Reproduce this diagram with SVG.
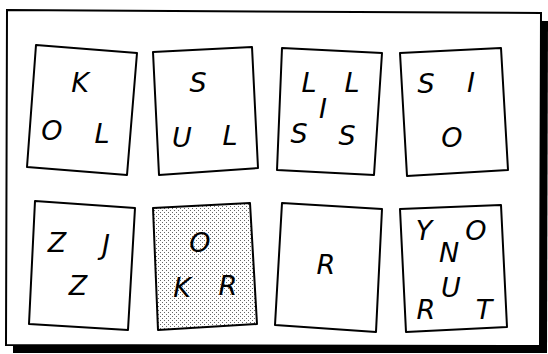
<svg xmlns="http://www.w3.org/2000/svg" width="548" height="354" viewBox="0 0 548 354">
<style>
.card{fill:#fff;stroke:#000;stroke-width:2;stroke-linejoin:round}
.dotted{fill:url(#dots);stroke:#000;stroke-width:2;stroke-linejoin:round}
.lt{font-family:"DejaVu Sans","Liberation Sans",sans-serif;font-style:italic;font-size:27px;fill:#000;text-anchor:middle}
</style>
<defs>
<pattern id="dots" width="4" height="4" patternUnits="userSpaceOnUse">
<rect width="4" height="4" fill="#fff"/>
<rect x="0" y="0" width="1" height="1" fill="#666"/>
<rect x="2" y="2" width="1" height="1" fill="#666"/>
</pattern>
</defs>
<rect width="548" height="354" fill="#fff"/>
<g id="frame">
<polygon points="14,18 548,21 547,353 13,353" fill="#000"/>
<polygon points="7,10 541,13 540,346 6,345" fill="#fff" stroke="#000" stroke-width="2"/>
</g>
<g id="card1"><polygon class="card" points="36,45 137,53 127,175 27,167"/>
<text class="lt" x="80" y="92">K</text><text class="lt" x="52" y="140">O</text><text class="lt" x="102" y="143">L</text></g>
<g id="card2"><polygon class="card" points="153,52 252,47 258,168 159,175"/>
<text class="lt" x="198" y="92">S</text><text class="lt" x="182" y="147">U</text><text class="lt" x="230" y="145">L</text></g>
<g id="card3"><polygon class="card" points="282,48 382,53 374,175 277,170"/>
<text class="lt" x="309" y="92">L</text><text class="lt" x="352" y="92">L</text><text class="lt" x="323" y="118">I</text><text class="lt" x="299" y="143">S</text><text class="lt" x="347" y="145">S</text></g>
<g id="card4"><polygon class="card" points="400,53 501,48 508,170 407,176"/>
<text class="lt" x="426" y="93">S</text><text class="lt" x="471" y="92">I</text><text class="lt" x="452" y="147">O</text></g>
<g id="card5"><polygon class="card" points="35,201 135,208 128,330 29,324"/>
<text class="lt" x="57" y="252">Z</text><text class="lt" x="106" y="254">J</text><text class="lt" x="78" y="295">Z</text></g>
<g id="card6"><polygon class="dotted" points="153,208 250,203 257,324 158,330"/>
<text class="lt" x="200" y="252">O</text><text class="lt" x="182" y="297">K</text><text class="lt" x="228" y="295">R</text></g>
<g id="card7"><polygon class="card" points="282,203 382,209 376,332 275,325"/>
<text class="lt" x="326" y="274">R</text></g>
<g id="card8"><polygon class="card" points="400,209 501,205 507,327 406,332"/>
<text class="lt" x="424" y="240">Y</text><text class="lt" x="476" y="240">O</text><text class="lt" x="449" y="262">N</text><text class="lt" x="451" y="297">U</text><text class="lt" x="426" y="319">R</text><text class="lt" x="484" y="319">T</text></g>
<g id="connectors"/>
</svg>
